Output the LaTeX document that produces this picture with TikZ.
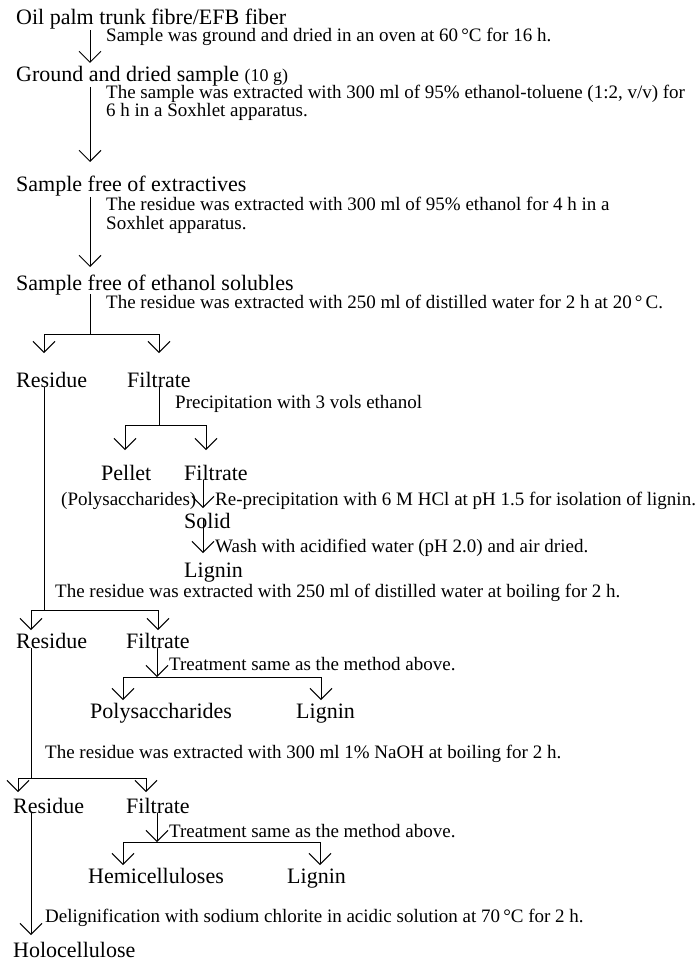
\documentclass[tikz,border=0pt]{standalone}
\usepackage{fontspec}
\setmainfont{Liberation Serif}
\usetikzlibrary{arrows.meta}
\begin{document}
\begin{tikzpicture}[x=1pt,y=-1pt,
  big/.style={anchor=base west,inner sep=0pt,font=\fontsize{22}{26}\selectfont},
  small/.style={anchor=base west,inner sep=0pt,font=\fontsize{19}{22}\selectfont},
  ln/.style={line width=1pt,line cap=rect},
  arr/.style={line width=1pt,-{Straight Barb[length=11pt,width=22pt,line width=1pt]}}]
\useasboundingbox[fill=white] (0,0) rectangle (700,960);
% texts
\node[big] (n1) at (16,25) {Oil palm trunk fibre/EFB fiber};
\node[small] (t1) at (106,42) {Sample was ground and dried in an oven at 60\,°C for 16 h.};
\node[big] (n2) at (16,82) {Ground and dried sample {\fontsize{18}{20}\selectfont(10 g)}};
\node[small] (t2a) at (106,99) {The sample was extracted with 300 ml of 95\% ethanol-toluene (1:2, v/v) for};
\node[small] (t2b) at (106,117) {6 h in a Soxhlet apparatus.};
\node[big] (n3) at (16,192) {Sample free of extractives};
\node[small] (t3a) at (106,210) {The residue was extracted with 300 ml of 95\% ethanol for 4 h in a};
\node[small] (t3b) at (106,229) {Soxhlet apparatus.};
\node[big] (n4) at (16,290) {Sample free of ethanol solubles};
\node[small] (t4) at (106,308) {The residue was extracted with 250 ml of distilled water for 2 h at 20\,°\,C.};
\node[big] (r1) at (16,387) {Residue};
\node[big] (f1) at (127,387) {Filtrate};
\node[small] (t5) at (175,408) {Precipitation with 3 vols ethanol};
\node[big] (p1) at (101,480) {Pellet};
\node[big] (f2) at (184,480) {Filtrate};
\node[small] (p1b) at (61,505) {(Polysaccharides)};
\node[small] (t6) at (215,505) {Re-precipitation with 6 M HCl at pH 1.5 for isolation of lignin.};
\node[big] (s1) at (184,528) {Solid};
\node[small] (t7) at (215,552) {Wash with acidified water (pH 2.0) and air dried.};
\node[big] (l1) at (184,577) {Lignin};
\node[small] (t8) at (55,597) {The residue was extracted with 250 ml of distilled water at boiling for 2 h.};
\node[big] (r2) at (16,648) {Residue};
\node[big] (f3) at (126,648) {Filtrate};
\node[small] (t9) at (169,670) {Treatment same as the method above.};
\node[big] (ps2) at (90,718) {Polysaccharides};
\node[big] (l2) at (296,718) {Lignin};
\node[small] (t10) at (45,758) {The residue was extracted with 300 ml 1\% NaOH at boiling for 2 h.};
\node[big] (r3) at (13,813) {Residue};
\node[big] (f4) at (126,813) {Filtrate};
\node[small] (t11) at (169,837) {Treatment same as the method above.};
\node[big] (h1) at (88,883) {Hemicelluloses};
\node[big] (l3) at (287,883) {Lignin};
\node[small] (t12) at (45,922) {Delignification with sodium chlorite in acidic solution at 70\,°C for 2 h.};
\node[big] (h2) at (13,957) {Holocellulose};
% junction coordinates
\coordinate (tipA) at (90,63);
\coordinate (tipB) at (90,162);
\coordinate (tipC) at (90,267);
\coordinate (j1) at (90,334);
\coordinate (j1l) at (44,334);
\coordinate (j1r) at (159,334);
\coordinate (j1lt) at (44,353);
\coordinate (j1rt) at (159,353);
\coordinate (j2) at (44,610);
\coordinate (j2l) at (31,610);
\coordinate (j2r) at (158,610);
\coordinate (j2lt) at (31,630);
\coordinate (j2rt) at (158,630);
\coordinate (j3) at (159,425);
\coordinate (j3l) at (125,425);
\coordinate (j3r) at (206,425);
\coordinate (j3lt) at (125,450);
\coordinate (j3rt) at (206,450);
\coordinate (tipD) at (203,508);
\coordinate (sS) at (203,518);
\coordinate (tipE) at (203,553);
\coordinate (j4) at (157,677);
\coordinate (j4l) at (123,677);
\coordinate (j4r) at (321,677);
\coordinate (j4lt) at (123,700);
\coordinate (j4rt) at (321,700);
\coordinate (j5) at (31,778);
\coordinate (j5l) at (18,778);
\coordinate (j5r) at (146,778);
\coordinate (j5lt) at (18,792);
\coordinate (j5rt) at (146,792);
\coordinate (j6) at (157,842);
\coordinate (j6l) at (123,842);
\coordinate (j6r) at (320,842);
\coordinate (j6lt) at (123,865);
\coordinate (j6rt) at (320,865);
\coordinate (tipF) at (31,935);
% connectors
\draw[arr] (tipA |- n1.south) -- (tipA);
\draw[arr] (tipB |- n2.south) -- (tipB);
\draw[arr] (tipC |- n3.south) -- (tipC);
\draw[ln] (j1 |- n4.south) -- (j1);
\draw[ln] (j1l) -- (j1r);
\draw[arr] (j1l) -- (j1lt);
\draw[arr] (j1r) -- (j1rt);
\draw[ln] (j2 |- r1.south) -- (j2);
\draw[ln] (j2l) -- (j2r);
\draw[arr] (j2l) -- (j2lt);
\draw[arr] (j2r) -- (j2rt);
\draw[ln] (j3 |- f1.south) -- (j3);
\draw[ln] (j3l) -- (j3r);
\draw[arr] (j3l) -- (j3lt);
\draw[arr] (j3r) -- (j3rt);
\draw[arr] (tipD |- f2.south) -- (tipD);
\draw[arr] (sS) -- (tipE);
\draw[arr] (j4 |- f3.south) -- (j4);
\draw[ln] (j4l) -- (j4r);
\draw[arr] (j4l) -- (j4lt);
\draw[arr] (j4r) -- (j4rt);
\draw[ln] (j5 |- r2.south) -- (j5);
\draw[ln] (j5l) -- (j5r);
\draw[arr] (j5l) -- (j5lt);
\draw[arr] (j5r) -- (j5rt);
\draw[arr] (j6 |- f4.south) -- (j6);
\draw[ln] (j6l) -- (j6r);
\draw[arr] (j6l) -- (j6lt);
\draw[arr] (j6r) -- (j6rt);
\draw[arr] (tipF |- r3.south) -- (tipF);
\end{tikzpicture}
\end{document}
